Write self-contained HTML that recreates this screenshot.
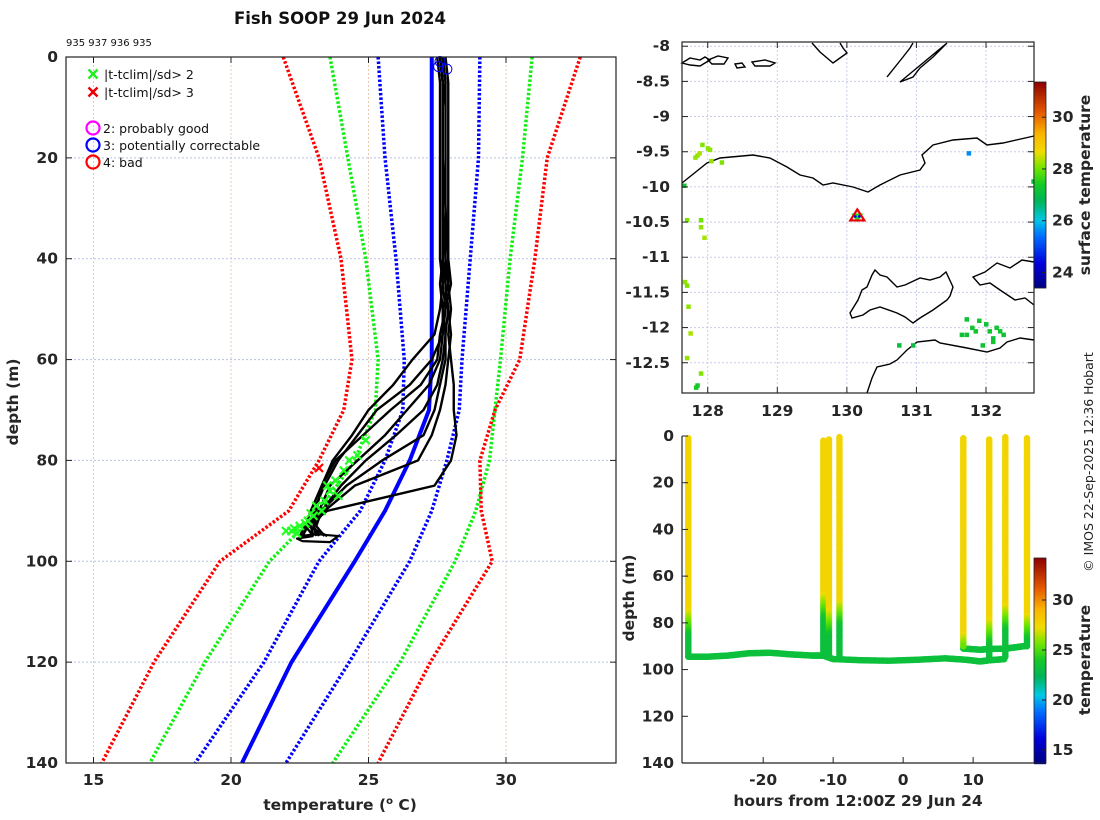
<!DOCTYPE html>
<html><head><meta charset="utf-8">
<style>
html,body{margin:0;padding:0;background:#fff;}
svg{display:block;font-family:"DejaVu Sans","Liberation Sans",sans-serif;}
.tk{font-size:15.5px;font-weight:bold;fill:#262626;}
.lg{font-size:12.5px;fill:#111;}
</style></head><body>
<svg id="fig" width="1100" height="820" viewBox="0 0 1100 820" xmlns="http://www.w3.org/2000/svg">
<text x="340" y="24" text-anchor="middle" font-size="16.5" font-weight="bold" fill="#111">Fish SOOP 29 Jun 2024</text>
<text x="66" y="46" font-size="10" fill="#111">935 937 936 935</text>
<g id="left"></g>
<g id="map"></g>
<g id="ts"></g>
<text transform="translate(1093,462) rotate(-90)" text-anchor="middle" font-size="12.5" fill="#222">© IMOS 22-Sep-2025 12:36 Hobart</text>
</svg>
<script>
// ---------- data: profile plot ----------
const climDepths = [0,20,40,60,70,80,90,100,120,140];
const climRedL   = [21.9,23.2,24.0,24.4,24.1,23.2,22.1,19.6,17.2,15.3];
const climGreenL = [23.6,24.25,24.9,25.35,25.25,24.5,23.2,21.4,19.05,17.05];
const climBlueL  = [25.35,25.6,26.0,26.3,26.25,25.6,24.7,23.2,21.2,18.7];
const climMean   = [27.3,27.3,27.3,27.3,27.2,26.5,25.6,24.5,22.2,20.4];
const climBlueR  = [29.05,29.0,28.7,28.4,28.3,27.85,27.3,26.5,24.3,22.0];
const climGreenR = [30.95,30.6,30.15,29.8,29.6,29.4,28.9,28.15,26.15,23.7];
const climRedR   = [32.7,31.5,31.05,30.5,29.6,29.05,29.1,29.5,27.25,25.35];
const profDepths = [0,5,10,20,30,40,45,50,55,60,65,70,75,80,85,90,93,95];
const prof1 = [27.5,27.6,27.6,27.6,27.6,27.6,27.7,27.8,27.7,27.6,27.2,26.4,25.6,24.6,23.6,23.2,23.0,23.1];
const prof2 = [27.6,27.7,27.7,27.7,27.7,27.7,27.8,27.9,27.8,27.8,27.6,27.4,27.0,25.5,24.2,23.3,23.1,23.4];
const prof3 = [27.6,27.7,27.7,27.7,27.7,27.8,27.9,27.7,27.7,27.3,26.5,25.3,24.6,23.9,23.4,23.0,22.9,23.0];
const prof4 = [27.7,27.8,27.7,27.7,27.8,27.8,27.8,27.9,28.0,27.9,27.8,27.6,27.3,26.8,24.5,23.4,23.0,23.2];
const prof5 = [27.6,27.7,27.7,27.7,27.7,27.7,27.6,27.7,27.8,27.7,27.5,27.0,26.0,24.9,24.0,23.3,22.8,22.6];
const prof6 = [27.7,27.8,27.8,27.8,27.8,27.9,28.0,27.8,27.6,27.5,26.9,25.8,24.8,23.8,23.3,23.1,22.7,22.5];
const prof7 = [27.8,27.9,27.9,27.9,27.9,27.9,27.9,28.0,27.9,28.0,28.1,28.1,28.2,28.0,27.4,23.5,22.8,23.5];
const prof8 = [27.6,27.7,27.7,27.7,27.7,27.7,27.7,27.6,27.4,26.6,25.9,25.0,24.4,23.7,23.3,22.9,22.7,23.0];
const flag2Temps  = [24.9,24.6,24.1,23.8,23.6,23.4,23.3,23.0,22.8,22.5,22.2,22.0,22.3,23.5,24.3,23.1,22.7,23.9,22.4,22.9];
const flag2Depths = [76,79,82,84,86,88,90,91,92,93,94,94,93.5,85,80,89,92.5,87,94.5,90.5];
const flag3Temps  = [23.2];
const flag3Depths = [81.5];
const qcTemps  = [27.6,27.55,27.85];
const qcDepths = [0.5,1.5,2];
// ---------- data: map ----------
const shipLon = 130.15, shipLat = -10.42;
const sstLon = [127.85,127.82,127.88,128.0,128.03,127.92,128.05,128.2,127.7,127.9,127.9,127.95,127.67,127.7,127.72,127.75,127.7,127.9,127.83,127.85,131.8,131.85,131.9,132.0,132.05,132.1,132.15,132.2,132.25,131.95,132.1,130.75,130.95,131.65,131.72,131.72,131.75,132.68,127.66];
const sstLat = [-9.55,-9.58,-9.52,-9.45,-9.47,-9.4,-9.63,-9.65,-10.47,-10.47,-10.57,-10.72,-11.35,-11.4,-11.7,-12.08,-12.43,-12.65,-12.85,-12.82,-12.0,-12.05,-11.9,-11.95,-12.05,-12.15,-12.0,-12.05,-12.1,-12.25,-12.2,-12.25,-12.25,-12.1,-12.1,-11.88,-9.52,-9.92,-9.98];
const sstVal = [28.2,28.2,28.3,28.1,28.2,28.1,28.2,28.1,28.1,28.0,28.2,28.3,28.2,28.1,28.2,28.3,28.2,28.1,27.4,27.4,27.3,27.3,27.3,27.2,27.3,27.2,27.3,27.3,27.2,27.2,27.3,27.1,27.1,27.2,27.2,27.2,25.6,27.0,27.3];
// ---------- data: time-depth ----------
const castHours  = [-30.7,-11.4,-10.6,-9.1,8.6,12.3,14.6,17.7];
const castTop    = [1,2,1.5,0.5,1,1.5,0.5,1];
const castThermo = [74,67,74,70,84,78,72,76];
const castBottom = [94,94,95,95,90,96,95,90];
const trackHours  = [-30.7,-28,-25,-22,-19,-16,-13,-11.4,-10,-6,-2,2,6,9,11,12.3,14.6];
const trackDepths = [94.5,94.5,94,93,92.8,93.5,94,94,95.5,96,96.2,95.8,95.2,95.8,96.5,96,95.5];
const track2Hours  = [8.6,11,12.3,14.6,16,17.7];
const track2Depths = [91,91.5,91.2,91,90.5,89.8];

const NS="http://www.w3.org/2000/svg";
function mk(parent,tag,attrs,txt){const e=document.createElementNS(NS,tag);for(const k in attrs)e.setAttribute(k,attrs[k]);if(txt!==undefined)e.textContent=txt;parent.appendChild(e);return e;}
const cstops=[[0,[0,0,130]],[0.12,[0,0,220]],[0.25,[0,110,255]],[0.33,[0,200,230]],[0.42,[0,180,90]],[0.5,[20,200,40]],[0.58,[110,230,0]],[0.66,[240,220,0]],[0.75,[250,180,0]],[0.85,[230,90,0]],[1,[140,0,0]]];
function cmap(t){t=Math.max(0,Math.min(1,t));for(let i=1;i<cstops.length;i++){if(t<=cstops[i][0]){const a=cstops[i-1],b=cstops[i];const f=(t-a[0])/(b[0]-a[0]);const c=a[1].map((v,j)=>Math.round(v+(b[1][j]-v)*f));return `rgb(${c[0]},${c[1]},${c[2]})`;}}return 'rgb(140,0,0)';}

// ---------- LEFT PLOT ----------
(function(){
const g=document.getElementById('left');
const L=66,R=616,T=57,B=763,t0=14,t1=34,d0=0,d1=140;
const X=t=>L+(t-t0)/(t1-t0)*(R-L), Y=d=>T+(d-d0)/(d1-d0)*(B-T);
[15,20,25,30].forEach(v=>{const e=mk(g,'line',{x1:X(v),x2:X(v),y1:T,y2:B,stroke:'#e6c8b4','stroke-width':1,'stroke-dasharray':'2,2'});});
[20,40,60,80,100,120].forEach(v=>{const e=mk(g,'line',{x1:L,x2:R,y1:Y(v),y2:Y(v),stroke:'#b8c0e4','stroke-width':1,'stroke-dasharray':'2,2'});});
const line=(arrT,arrD,col,w,dash,name)=>{const p=mk(g,'polyline',{points:arrT.map((t,i)=>X(t)+','+Y(arrD[i])).join(' '),fill:'none',stroke:col,'stroke-width':w,'stroke-linejoin':'round'});if(dash)p.setAttribute('stroke-dasharray',dash);};
line(climRedL,climDepths,'#f00',3.5,'2.5,2','clim-3sd-left');
line(climGreenL,climDepths,'#1e1',3.5,'2.5,2','clim-2sd-left');
line(climBlueL,climDepths,'#00f',3.5,'2.5,2','clim-1sd-left');
line(climBlueR,climDepths,'#00f',3.5,'2.5,2','clim-1sd-right');
line(climGreenR,climDepths,'#1e1',3.5,'2.5,2','clim-2sd-right');
line(climRedR,climDepths,'#f00',3.5,'2.5,2','clim-3sd-right');
line(climMean,climDepths,'#00f',4,null,'clim-mean');
[prof1,prof2,prof3,prof4,prof5,prof6,prof7,prof8].forEach((p,i)=>line(p,profDepths,'#000',2.4,null,'temperature-profile-'+(i+1)));
line([23.0,22.4,22.6,23.6,23.9,23.1,22.5],[95,95.5,96,96.2,95,94.6,95],'#000',2.2,null,'profile-bottom-loop');
const xm=(t,d,col,name)=>{const cx=X(t),cy=Y(d),s=4;const p=mk(g,'path',{d:`M${cx-s},${cy-s}L${cx+s},${cy+s}M${cx-s},${cy+s}L${cx+s},${cy-s}`,stroke:col,'stroke-width':2.2,fill:'none'});};
flag2Temps.forEach((t,i)=>xm(t,flag2Depths[i],'#2f2','flag-2sd-marker'));
flag3Temps.forEach((t,i)=>xm(t,flag3Depths[i],'#f00','flag-3sd-marker'));
qcTemps.forEach((t,i)=>{const c=mk(g,'circle',{cx:X(t),cy:Y(qcDepths[i])+2,r:5,fill:'none',stroke:'#00f','stroke-width':1});});
const fr=mk(g,'rect',{x:L,y:T,width:R-L,height:B-T,fill:'none',stroke:'#222','stroke-width':1.2});
[15,20,25,30].forEach(v=>{mk(g,'line',{x1:X(v),x2:X(v),y1:B,y2:B-6,stroke:'#222'});mk(g,'line',{x1:X(v),x2:X(v),y1:T,y2:T+6,stroke:'#222'});const e=mk(g,'text',{x:X(v),y:B+22,'text-anchor':'middle',class:'tk'},String(v));});
[0,20,40,60,80,100,120,140].forEach(v=>{mk(g,'line',{x1:L,x2:L+6,y1:Y(v),y2:Y(v),stroke:'#222'});mk(g,'line',{x1:R,x2:R-6,y1:Y(v),y2:Y(v),stroke:'#222'});const e=mk(g,'text',{x:L-8,y:Y(v)+5,'text-anchor':'end',class:'tk'},String(v));});
const yl=mk(g,'text',{transform:'translate(18,402) rotate(-90)','text-anchor':'middle',class:'tk'},'depth (m)');
const xl=mk(g,'text',{x:340,y:810,'text-anchor':'middle',class:'tk'});
xl.innerHTML='temperature (<tspan dy="-6" font-size="10">o</tspan><tspan dy="6"> C)</tspan>';
const lgx=93;
const lx=(y,col,txt)=>{const cx=lgx,cy=y,s=4.5;mk(g,'path',{d:`M${cx-s},${cy-s}L${cx+s},${cy+s}M${cx-s},${cy+s}L${cx+s},${cy-s}`,stroke:col,'stroke-width':2.4,fill:'none'});const t=mk(g,'text',{x:lgx+11,y:y+5,class:'lg'},txt);};
lx(74,'#2e2','|t-tclim|/sd> 2');lx(92,'#e00','|t-tclim|/sd> 3');
const lc=(y,col,txt)=>{mk(g,'circle',{cx:lgx,cy:y,r:6.5,fill:'none',stroke:col,'stroke-width':2.2});const t=mk(g,'text',{x:lgx+10,y:y+5,class:'lg'},txt);};
lc(128,'#f0f','2: probably good');lc(145,'#00f','3: potentially correctable');lc(162,'#f00','4: bad');
})();

// ---------- MAP ----------
(function(){
const g=document.getElementById('map');
const L=682,R=1034,T=42,B=393,lo0=127.63,lo1=132.69,la0=-7.94,la1=-12.93;
const X=v=>L+(v-lo0)/(lo1-lo0)*(R-L), Y=v=>T+(v-la0)/(la1-la0)*(B-T);
[128,129,130,131,132].forEach(v=>mk(g,'line',{x1:X(v),x2:X(v),y1:T,y2:B,stroke:'#c8cce8','stroke-dasharray':'2,2'}));
[-8,-8.5,-9,-9.5,-10,-10.5,-11,-11.5,-12,-12.5].forEach(v=>mk(g,'line',{x1:L,x2:R,y1:Y(v),y2:Y(v),stroke:'#c8cce8','stroke-dasharray':'2,2'}));
const coasts=[
"M682,183 L707,163 L720,158 L753,155 L770,158 L787,167 L800,175 L813,178 L823,185 L833,183 L853,187 L868,192 L880,185 L900,175 L920,170 L925,163 L922,155 L933,145 L953,140 L977,138 L987,145 L1003,143 L1034,136",
"M850,313 L858,300 L862,290 L867,287 L872,275 L875,270 L880,275 L887,277 L893,283 L897,287 L905,285 L920,278 L930,280 L940,277 L946,272 L953,287 L950,296 L947,300 L933,310 L920,318 L913,323 L905,317 L897,313 L880,307 L870,310 L863,315 L852,318 Z",
"M867,393 L872,378 L877,367 L890,364 L897,360 L907,350 L917,342 L935,340 L940,343 L967,348 L987,352 L1000,348 L1007,342 L1020,338 L1034,340",
"M1034,262 L1022,260 L1010,268 L997,263 L985,272 L973,277 L980,285 L990,283 L1000,290 L1015,300 L1025,298 L1034,305",
"M887,77 L895,67 L903,57 L910,48 L913,43 M947,43 L940,50 L933,57 L920,68 L913,77 L900,82 Z",
"M812,43 L820,52 L833,63 L840,58 L847,53 L843,48 L840,43",
"M682,63 L690,58 L700,60 L705,57 L710,60 L700,66 L690,65 Z M708,60 L718,56 L728,58 L724,64 L712,64 Z M735,64 L742,63 L745,67 L737,68 Z M752,62 L765,60 L775,63 L770,66 L755,66 Z"
];
coasts.forEach(d=>{const p=mk(g,'path',{d:d,fill:'none',stroke:'#000','stroke-width':1.4});});
const cb0=23.4,cb1=31.36;
sstLon.forEach((lo,i)=>{const r=mk(g,'rect',{x:X(lo)-2,y:Y(sstLat[i])-2,width:4.5,height:4.5,fill:cmap((sstVal[i]-cb0)/(cb1-cb0))});});
const sx=X(shipLon),sy=Y(shipLat);
const st=mk(g,'path',{d:`M${sx-6},${sy-3}L${sx+6},${sy-3}L${sx},${sy+6}Z`,fill:'#2d2'});
const tr=mk(g,'path',{d:`M${sx-7},${sy+4}L${sx+7},${sy+4}L${sx},${sy-7}Z`,fill:'none',stroke:'#e00','stroke-width':2.2});
mk(g,'circle',{cx:sx-2,cy:sy,r:1.3,fill:'#00f'});mk(g,'circle',{cx:sx+2,cy:sy,r:1.3,fill:'#00f'});
mk(g,'rect',{x:L,y:T,width:R-L,height:B-T,fill:'none',stroke:'#222','stroke-width':1.2});
[128,129,130,131,132].forEach(v=>{mk(g,'line',{x1:X(v),x2:X(v),y1:T,y2:T+6,stroke:'#222'});mk(g,'line',{x1:X(v),x2:X(v),y1:B,y2:B-6,stroke:'#222'});const e=mk(g,'text',{x:X(v),y:B+23,'text-anchor':'middle',class:'tk'},String(v));});
[-8,-8.5,-9,-9.5,-10,-10.5,-11,-11.5,-12,-12.5].forEach(v=>{mk(g,'line',{x1:L,x2:L+6,y1:Y(v),y2:Y(v),stroke:'#222'});mk(g,'line',{x1:R,x2:R-6,y1:Y(v),y2:Y(v),stroke:'#222'});const e=mk(g,'text',{x:L-12,y:Y(v)+5,'text-anchor':'end',class:'tk'},String(v));});
const cT=82,cB=288,cx0=1034,cw=12;
for(let i=0;i<103;i++){const y=cT+i*2;mk(g,'rect',{x:cx0,y:y,width:cw,height:2.2,fill:cmap(1-(i+0.5)/103)});}
const cbf=mk(g,'rect',{x:cx0,y:cT,width:cw,height:cB-cT,fill:'none',stroke:'#222','stroke-width':0.8});
[24,26,28,30].forEach(v=>{const y=cB-(v-cb0)/(cb1-cb0)*(cB-cT);mk(g,'line',{x1:cx0+cw,x2:cx0+cw-4,y1:y,y2:y,stroke:'#222'});const e=mk(g,'text',{x:cx0+18,y:y+5,class:'tk'},String(v));});
const ct=mk(g,'text',{transform:'translate(1090,185) rotate(-90)','text-anchor':'middle',class:'tk'},'surface temperature');
})();

// ---------- TIME-DEPTH ----------
(function(){
const g=document.getElementById('ts');
const L=682,R=1034,T=436,B=763,h0=-31.6,h1=18.7,d0=0,d1=140;
const X=v=>L+(v-h0)/(h1-h0)*(R-L), Y=v=>T+(v-d0)/(d1-d0)*(B-T);
const cb0=13.7,cb1=34.2;
const tempAt=(d,th)=>d<=th?27.6:(d>=th+12?23.3:27.6-(d-th)/12*4.3);
const dot=(h,d,t,name)=>{const c=mk(g,'circle',{cx:X(h),cy:Y(d),r:3.3,fill:cmap((t-cb0)/(cb1-cb0))});};
const interp=(hs,ds,n,name)=>{for(let i=1;i<hs.length;i++){for(let k=0;k<n;k++){const f=k/n;dot(hs[i-1]+(hs[i]-hs[i-1])*f,ds[i-1]+(ds[i]-ds[i-1])*f,23.3,name);}}};
interp(trackHours,trackDepths,14,'track-point');
interp(track2Hours,track2Depths,14,'track-point');
castHours.forEach((h,i)=>{for(let d=castTop[i];d<=castBottom[i];d+=1){dot(h,d,tempAt(d,castThermo[i]),'cast-point');}});
mk(g,'line',{x1:L,x2:L,y1:T,y2:B,stroke:'#222','stroke-width':1.2});
mk(g,'line',{x1:L,x2:R,y1:B,y2:B,stroke:'#222','stroke-width':1.2});
[-20,-10,0,10].forEach(v=>{mk(g,'line',{x1:X(v),x2:X(v),y1:B,y2:B-6,stroke:'#222'});const e=mk(g,'text',{x:X(v),y:B+22,'text-anchor':'middle',class:'tk'},String(v));});
[0,20,40,60,80,100,120,140].forEach(v=>{mk(g,'line',{x1:L,x2:L+6,y1:Y(v),y2:Y(v),stroke:'#222'});const e=mk(g,'text',{x:L-8,y:Y(v)+5,'text-anchor':'end',class:'tk'},String(v));});
const yl=mk(g,'text',{transform:'translate(634,598) rotate(-90)','text-anchor':'middle',class:'tk'},'depth (m)');
const xl=mk(g,'text',{x:858,y:806,'text-anchor':'middle',class:'tk'},'hours from 12:00Z 29 Jun 24');
const cT=558,cB=763,cx0=1034,cw=12;
for(let i=0;i<103;i++){const y=cT+i*2;if(y>=cB)break;mk(g,'rect',{x:cx0,y:y,width:cw,height:2.2,fill:cmap(1-(i+0.5)/102.5)});}
const cbf=mk(g,'rect',{x:cx0,y:cT,width:cw,height:cB-cT,fill:'none',stroke:'#222','stroke-width':0.8});
[15,20,25,30].forEach(v=>{const y=cB-(v-cb0)/(cb1-cb0)*(cB-cT);mk(g,'line',{x1:cx0+cw,x2:cx0+cw-4,y1:y,y2:y,stroke:'#222'});const e=mk(g,'text',{x:cx0+18,y:y+5,class:'tk'},String(v));});
const ct=mk(g,'text',{transform:'translate(1090,660) rotate(-90)','text-anchor':'middle',class:'tk'},'temperature');
})();
</script>
</body></html>
